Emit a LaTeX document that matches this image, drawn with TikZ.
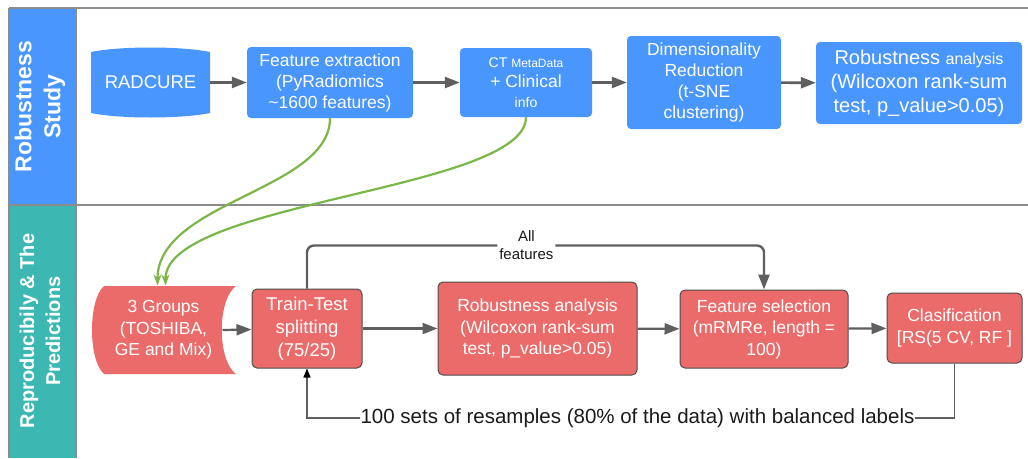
\documentclass[tikz,border=0pt]{standalone}
\usepackage{fontspec}
\setmainfont{Liberation Sans}
\usetikzlibrary{arrows.meta, calc}

\definecolor{studyblue}{HTML}{4A96FF}
\definecolor{predteal}{HTML}{3DB7B2}
\definecolor{predred}{HTML}{EB6B6B}
\definecolor{linkgreen}{HTML}{7AB648}
\definecolor{flowgray}{HTML}{5F5F5F}
\definecolor{framegray}{HTML}{8C8C8C}
\definecolor{textdark}{HTML}{1A1A1A}

\newcommand{\setfs}[2]{\fontsize{#1}{#2}\selectfont}

\begin{document}
\begin{tikzpicture}[x=1pt, y=-1pt,
    bluebox/.style={fill=studyblue, rounded corners=4pt, text=white, align=center, inner sep=0pt},
    redbox/.style={fill=predred, draw=black!70, line width=1pt, rounded corners=5pt, text=white,
        align=center, inner sep=0pt, font=\setfs{17.5}{21.5}},
    lanelabel/.style={rotate=90, text=white, align=center, inner sep=0pt},
    flow/.style={draw=flowgray, line width=2.6pt, -{Triangle[length=15pt,width=11pt]}},
    link/.style={draw=linkgreen, line width=2.2pt, -{Stealth[length=11pt,width=8pt]}},
    loopline/.style={draw=flowgray, line width=1.5pt}]
    \useasboundingbox (0,0) rectangle (1028,458);

    % lanes
    \fill[studyblue] (9,8) rectangle (76,205);
    \fill[predteal] (9,205) rectangle (76,458);
    \draw[framegray, line width=1.2pt] (9,8) -- (1028,8);
    \draw[framegray, line width=1.2pt] (9,205) -- (1028,205);
    \draw[framegray, line width=1.2pt] (9,8) -- (9,458);
    \draw[framegray, line width=1.2pt] (76,8) -- (76,458);
    \node[lanelabel, font=\bfseries\setfs{23}{29}] (studylabel) at (40,106.5) {Robustness\\Study};
    \node[lanelabel, font=\bfseries\setfs{20}{26}] (predlabel) at (40,331) {Reproducibily \& The\\Predictions};

    % robustness study
    \fill[studyblue] (91,52) .. controls (120,46) and (181,46) .. (210,52) -- (210,113)
        .. controls (181,119) and (120,119) .. (91,113) -- cycle;
    \node[bluebox, fill=none, minimum width=119, minimum height=69, font=\setfs{18.5}{22}] (radcure) at (150.5,82.5) {RADCURE};
    \node[bluebox, minimum width=166, minimum height=71, font=\setfs{17.5}{21}] (featext) at (330,82.5)
        {Feature extraction\\(PyRadiomics\\\textasciitilde1600 features)};
    \node[bluebox, minimum width=132, minimum height=69, font=\setfs{15}{20}] (ctmeta) at (526,82.5)
        {{\setfs{14}{20}CT \setfs{12}{20}MetaData}\\{\setfs{17.5}{20}+ Clinical}\\{\setfs{14}{20}info}};
    \node[bluebox, minimum width=154, minimum height=93, font=\setfs{17.5}{21}] (dimred) at (704,82.5)
        {Dimensionality\\Reduction\\(t-SNE\\clustering)};
    \node[bluebox, minimum width=206, minimum height=82, font=\setfs{20}{24}] (robtop) at (919,83)
        {Robustness {\setfs{16}{24}analysis}\\(Wilcoxon rank-sum\\test, p\_value>0.05)};

    \draw[flow] (radcure) -- (featext);
    \draw[flow] (featext) -- (ctmeta);
    \draw[flow] (ctmeta) -- (dimred);
    \draw[flow] (dimred) -- (robtop);

    % reproducibility and predictions
    \fill[predred] (104,286) -- (236,286) .. controls (217,300) and (217,360) .. (236,374) -- (104,374)
        .. controls (88,360) and (88,300) .. (104,286) -- cycle;
    \node[redbox, draw=none, fill=none, minimum width=143, minimum height=88] (groups) at (163.5,330)
        {3 Groups\\(TOSHIBA,\\GE and Mix)};
    \node[redbox, minimum width=110, minimum height=79, font=\setfs{18.5}{23}] (train) at (307,328.5)
        {Train-Test\\splitting\\(75/25)};
    \node[redbox, minimum width=199, minimum height=93] (robbot) at (537.5,328.5)
        {Robustness analysis\\(Wilcoxon rank-sum\\test, p\_value>0.05)};
    \node[redbox, minimum width=168, minimum height=78] (featsel) at (764,329)
        {Feature selection\\(mRMRe, length =\\100)};
    \node[redbox, minimum width=135, minimum height=70] (clas) at (954.5,328)
        {Clasification\\{[}RS(5 CV, RF {]}};

    \draw[flow, line width=2.2pt] ([xshift=-13pt]groups.east) -- (train);
    \draw[flow, line width=2.2pt] (train) -- (robbot);
    \draw[flow, line width=2.2pt] (robbot) -- (featsel);
    \draw[flow, line width=2.2pt] (featsel) -- (clas);
    \draw[flow, line width=2.4pt, rounded corners=7pt] (train.north) -- ++(0,-43) -|
        node[pos=0.24, fill=white, text=textdark, align=center, inner sep=2pt, font=\setfs{15}{18}] (allfeat) {All\\features}
        (featsel.north);

    \draw[link] (featext.south) .. controls +(0,72) and +(0,-84) .. ([xshift=-6pt]groups.north);
    \draw[link] (ctmeta.south) .. controls +(0,73) and +(0,-84) .. ([xshift=2pt]groups.north);

    \node[text=textdark, inner sep=0pt, font=\setfs{20.5}{24}] (resample) at (637.5,418)
        {100 sets of resamples (80\% of the data) with balanced labels};
    \draw[loopline] (clas.south) |- (resample.east);
    \draw[loopline, -{Triangle[length=9pt,width=7pt,color=black]}] (resample.west) -| (train.south);
\end{tikzpicture}
\end{document}
